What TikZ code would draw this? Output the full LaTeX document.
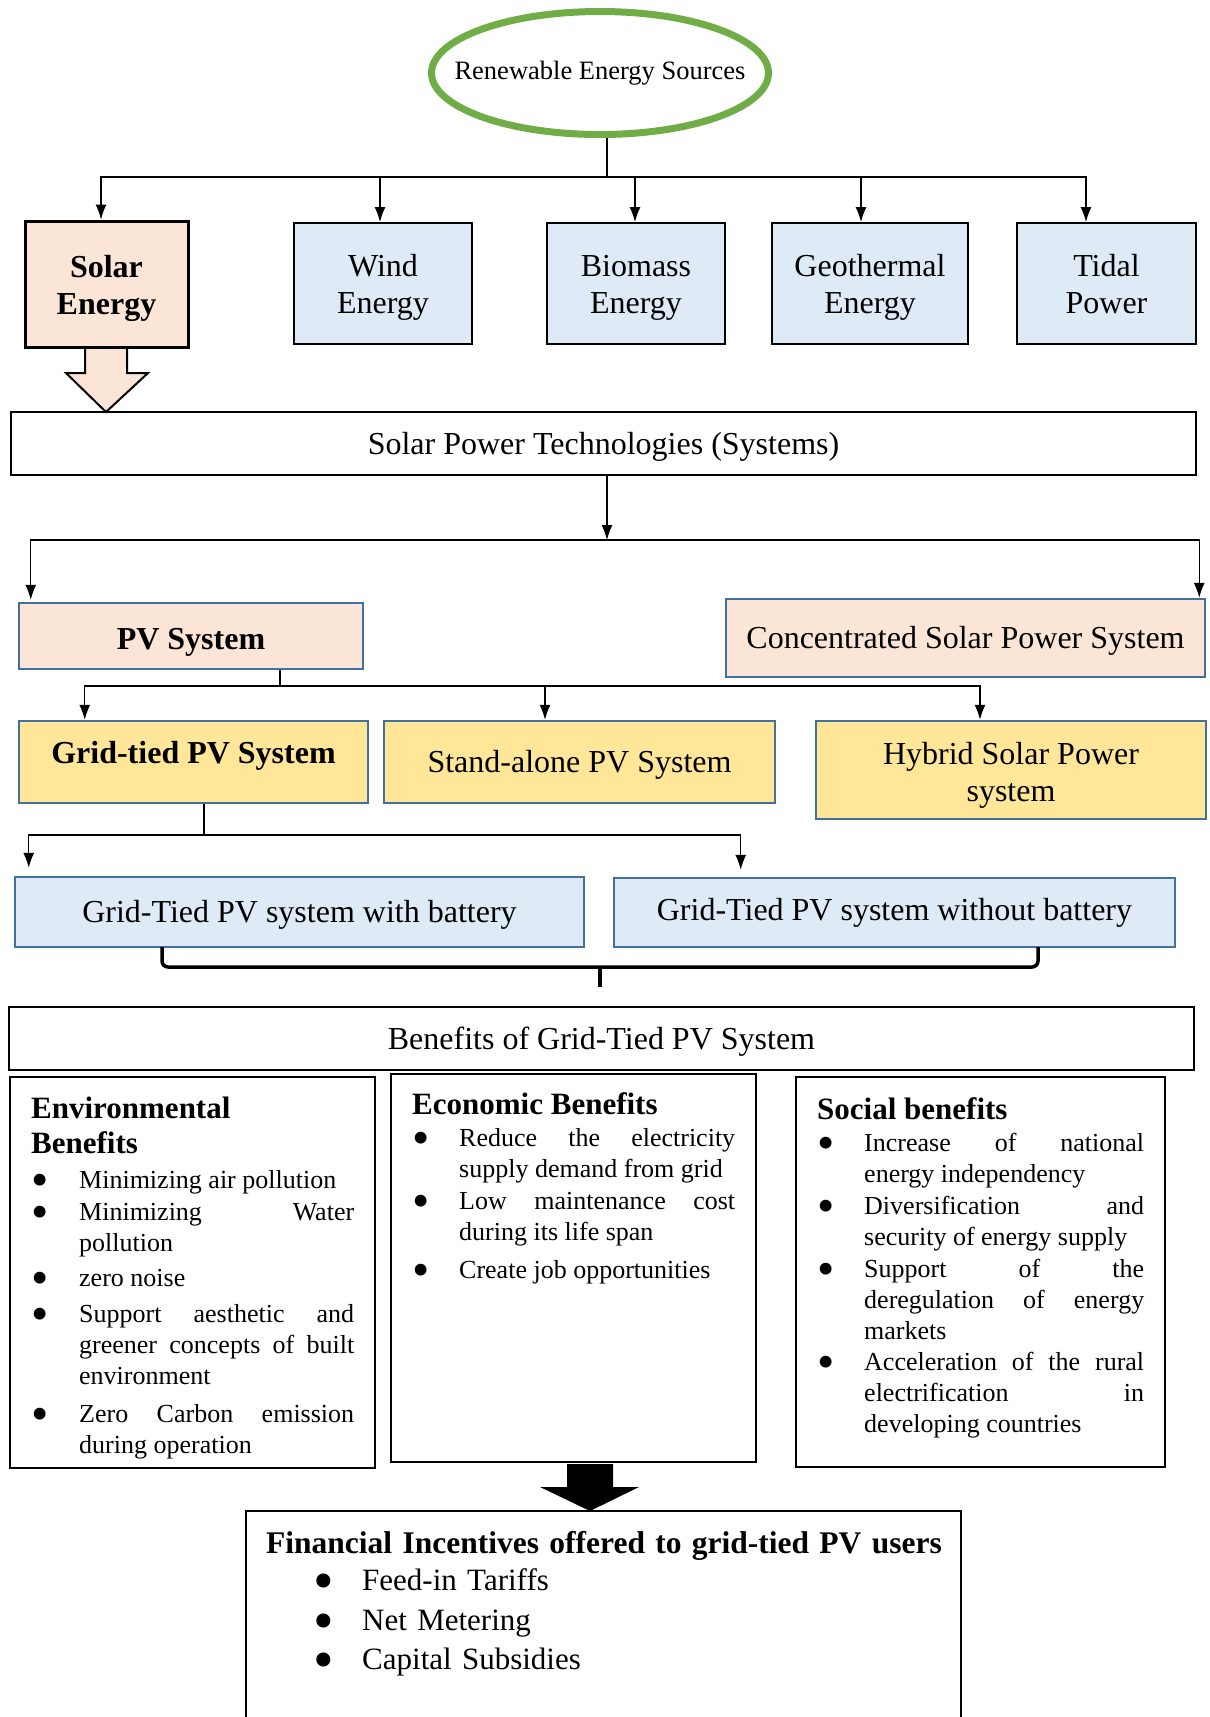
\documentclass[tikz,border=0pt]{standalone}
\usepackage{fontspec}
\setmainfont{Liberation Serif}
\usetikzlibrary{shapes.geometric,arrows.meta}

\definecolor{peach}{HTML}{FBE5D6}
\definecolor{paleblue}{HTML}{DEEBF7}
\definecolor{paleyellow}{HTML}{FFE699}
\definecolor{edgeblue}{HTML}{41719C}
\definecolor{ringgreen}{HTML}{70AD47}

\hbadness=10000
\tolerance=10000
\hyphenpenalty=10000

\newlength{\bind}
\newlength{\bpos}
\newcommand{\bigdot}{\raisebox{-0.33em}{\scalebox{1.9}{\textbullet}}}
\newcommand{\bitem}[2][0pt]{\par\vspace{#1}\noindent\hangindent=\bind\hangafter=1\makebox[\bind][l]{\hspace{\bpos}\bigdot}#2}

\begin{document}
\begin{tikzpicture}[x=1pt,y=-1pt]
\tikzstyle{every node}=[font=\fontsize{32}{37}\selectfont, inner sep=0pt]
\tikzstyle{conn}=[line width=1.2pt]
\tikzstyle{arr}=[line width=1.2pt, -{Latex[length=15pt,width=11pt]}]
\tikzstyle{ring}=[ellipse, draw=ringgreen, line width=7pt]
\tikzstyle{boxtext}=[text height=22pt, text depth=1pt]
\tikzstyle{twoline}=[text height=60pt, text depth=0pt]
\tikzstyle{source}=[boxtext, twoline, draw, line width=2pt, fill=paleblue, align=center]
\tikzstyle{pvbox}=[boxtext, draw=edgeblue, line width=2.5pt, fill=peach, align=center]
\tikzstyle{pvtype}=[boxtext, draw=edgeblue, line width=2.5pt, fill=paleyellow, align=center]
\tikzstyle{gtbox}=[boxtext, draw=edgeblue, line width=2.5pt, fill=paleblue, align=center]
\tikzstyle{plain}=[boxtext, draw, line width=1.5pt]
\tikzstyle{benbox}=[draw, line width=1.3pt]
\tikzstyle{bentext}=[anchor=base west, align=justify, font=\fontsize{26}{31}\selectfont]
\tikzstyle{brace}=[line width=3.5pt, rounded corners=6pt]

	\useasboundingbox (0,0) rectangle (1210,1717);

	\node[ring, minimum width=337pt, minimum height=123pt] (res) at (600,73) {};
	\node[font=\fontsize{26.5}{30}\selectfont] (restxt) at (res.center) {Renewable Energy Sources};

	\draw[fill=peach, line width=2pt] (85,347) to (85,373) to (66,373) to (106,412) to (148,373) to (127,373) to (127,347);
	\node[source, line width=3pt, fill=peach, minimum width=163pt, minimum height=126pt, font=\fontsize{32}{37}\selectfont\bfseries] (solar) at (106.5,284) {Solar\\Energy};
	\node[source, minimum width=178pt, minimum height=121pt] (wind) at (383,283.5) {Wind\\Energy};
	\node[source, minimum width=178pt, minimum height=121pt] (bio) at (636,283.5) {Biomass\\Energy};
	\node[source, minimum width=196pt, minimum height=121pt] (geo) at (870,283.5) {Geothermal\\Energy};
	\node[source, minimum width=179pt, minimum height=121pt] (tidal) at (1106.5,283.5) {Tidal\\Power};

	\coordinate (b1) at (607,177);
	\draw[conn] ([xshift=7pt]res.south) to (b1);
	\draw[arr] (b1) -| ([xshift=-5.5pt]solar.north);
	\draw[arr] (b1) -| ([xshift=-3pt]wind.north);
	\draw[arr] (b1) -| ([xshift=-1pt]bio.north);
	\draw[arr] (b1) -| ([xshift=-9pt]geo.north);
	\draw[arr] (b1) -| ([xshift=-20.5pt]tidal.north);

	\node[plain, minimum width=1185pt, minimum height=63pt] (tech) at (603.5,443.5) {Solar Power Technologies (Systems)};

	\node[pvbox, minimum width=344pt, minimum height=66pt, text height=28pt, font=\fontsize{32}{37}\selectfont\bfseries] (pv) at (191,636) {PV System};
	\node[pvbox, minimum width=479pt, minimum height=78pt] (csp) at (965.5,638) {Concentrated Solar Power System};

	\coordinate (b2) at (607,540);
	\draw[arr] (tech.south -| b2) to (b2);
	\draw[arr, shorten >=2pt] (b2) -| ([xshift=13pt]pv.north west);
	\draw[arr] (b2) -| ([xshift=-7pt]csp.north east);

	\node[pvtype, minimum width=349pt, minimum height=82pt, text height=22pt, text depth=20pt, font=\fontsize{32}{37}\selectfont\bfseries] (grid) at (193.5,762) {Grid-tied PV System};
	\node[pvtype, minimum width=391pt, minimum height=82pt] (stand) at (579.5,762) {Stand-alone PV System};
	\node[pvtype, twoline, text height=62pt, minimum width=390pt, minimum height=98pt] (hybrid) at (1011,770) {Hybrid Solar Power\\system};

	\coordinate (b3) at (280,686);
	\draw[conn] (pv.south -| b3) to (b3);
	\draw[arr] (b3) -| ([xshift=67pt]grid.north west);
	\draw[arr] (b3) -| ([xshift=-34.5pt]stand.north);
	\draw[arr] (b3) -| ([xshift=-31pt]hybrid.north);

	\node[gtbox, minimum width=569pt, minimum height=70pt] (withbat) at (299.5,912) {Grid-Tied PV system with battery};
	\node[gtbox, minimum width=561pt, minimum height=69pt, text depth=7pt] (nobat) at (894.5,912.5) {Grid-Tied PV system without battery};

	\coordinate (b4) at (204,835);
	\draw[conn] (grid.south -| b4) to (b4);
	\draw[arr, shorten >=8pt] (b4) -| ([xshift=15pt]withbat.north west);
	\draw[arr, shorten >=7pt] (b4) -| ([xshift=128pt]nobat.north west);

	\draw[brace] (162,947) to (162,967) to (1038,967) to (1038,947);
	\draw[brace] (600,966) to (600,987);

	\node[plain, minimum width=1185pt, minimum height=63pt] (benefits) at (601.5,1038.5) {Benefits of Grid-Tied PV System};

	\node[benbox, minimum width=365pt, minimum height=391pt] (env) at (192.5,1272.5) {};
	\node[benbox, minimum width=365pt, minimum height=388pt] (econ) at (573.5,1268) {};
	\node[benbox, minimum width=369pt, minimum height=390pt] (social) at (980.5,1272) {};

	\node[bentext, text width=323pt] (envtxt) at (31,1118) {\setlength{\bind}{48pt}\setlength{\bpos}{0pt}%
\noindent{\fontsize{31}{35}\selectfont\bfseries Environmental\\Benefits\par}
\bitem[4pt]{Minimizing air pollution}
\bitem[1pt]{Minimizing Water\linebreak pollution}
\bitem[4pt]{zero noise}
\bitem[5pt]{Support aesthetic and\linebreak greener concepts of built\linebreak environment}
\bitem[7pt]{Zero Carbon emission\linebreak during operation}\par};

	\node[bentext, text width=323pt] (econtxt) at (412,1114) {\setlength{\bind}{47pt}\setlength{\bpos}{0pt}%
\noindent{\fontsize{31}{35}\selectfont\bfseries Economic Benefits\par}
\bitem[1pt]{Reduce the electricity\linebreak supply demand from grid}
\bitem[1pt]{Low maintenance cost\linebreak during its life span}
\bitem[7pt]{Create job opportunities}\par};

	\node[bentext, text width=327pt] (socialtxt) at (817,1119) {\setlength{\bind}{47pt}\setlength{\bpos}{0pt}%
\noindent{\fontsize{31}{35}\selectfont\bfseries Social benefits\par}
\bitem[1pt]{Increase of national\linebreak energy independency}
\bitem[1pt]{Diversification and\linebreak security of energy supply}
\bitem[1pt]{Support of the\linebreak deregulation of energy\linebreak markets}
\bitem{Acceleration of the rural\linebreak electrification in\linebreak developing countries}\par};

	\fill (567,1464) to (613,1464) to (613,1487) to (639,1487) to (590,1511) to (540,1487) to (567,1487) to cycle;

	\node[benbox, minimum width=715pt, minimum height=260pt] (fin) at (603.5,1641) {};
	\node[bentext, text width=690pt, align=left, font=\fontsize{31}{39}\selectfont] (fintxt) at (266,1553) {\setlength{\bind}{96pt}\setlength{\bpos}{47pt}%
\noindent{\fontsize{31.5}{37}\selectfont\bfseries Financial Incentives offered to grid-tied PV users\par}
\bitem[-2pt]{Feed-in Tariffs}
\bitem[1pt]{Net Metering}
\bitem{Capital Subsidies}\par};
\end{tikzpicture}
\end{document}
